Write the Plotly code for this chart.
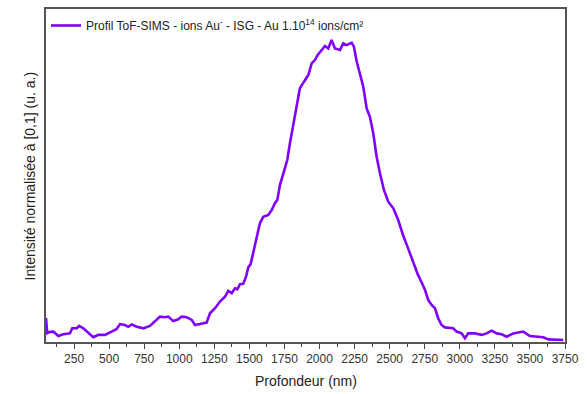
import plotly.graph_objects as go

depth_nm = [50, 59, 79, 102, 138, 173, 221, 237, 269, 287, 316, 352, 387, 423, 471, 518, 554, 577,
            613, 637, 661, 697, 744, 791, 827, 863, 898, 922, 957, 993, 1017, 1053, 1089, 1112, 1148,
            1195, 1219, 1255, 1290, 1326, 1349, 1374, 1397, 1414, 1433, 1456, 1476, 1492, 1509, 1523,
            1540, 1556, 1575, 1599, 1635, 1659, 1682, 1699, 1718, 1746, 1770, 1789, 1813, 1837, 1860,
            1889, 1920, 1944, 1967, 1987, 2015, 2039, 2062, 2086, 2110, 2146, 2169, 2193, 2229, 2245,
            2265, 2288, 2312, 2336, 2359, 2383, 2407, 2431, 2459, 2490, 2526, 2561, 2595, 2630, 2666,
            2702, 2730, 2752, 2775, 2799, 2823, 2846, 2870, 2894, 2953, 2977, 3013, 3037, 3060, 3108,
            3156, 3191, 3227, 3263, 3298, 3334, 3381, 3417, 3452, 3500, 3548, 3595, 3631, 3678, 3738]
intensity = [0.073, 0.023, 0.027, 0.028, 0.013, 0.019, 0.022, 0.039, 0.039, 0.047, 0.039, 0.022,
             0.009, 0.017, 0.017, 0.028, 0.037, 0.053, 0.050, 0.044, 0.052, 0.044, 0.039, 0.047,
             0.061, 0.078, 0.076, 0.078, 0.063, 0.069, 0.078, 0.076, 0.067, 0.050, 0.053, 0.058,
             0.089, 0.106, 0.128, 0.144, 0.164, 0.156, 0.172, 0.169, 0.186, 0.187, 0.211, 0.242,
             0.253, 0.283, 0.317, 0.350, 0.389, 0.411, 0.417, 0.433, 0.456, 0.467, 0.517, 0.561,
             0.600, 0.656, 0.722, 0.778, 0.839, 0.861, 0.883, 0.922, 0.933, 0.950, 0.967, 0.980,
             0.972, 1.000, 0.972, 0.967, 0.989, 0.983, 0.991, 0.978, 0.928, 0.883, 0.844, 0.772,
             0.744, 0.689, 0.611, 0.556, 0.500, 0.461, 0.439, 0.400, 0.350, 0.307, 0.260, 0.217,
             0.190, 0.167, 0.133, 0.117, 0.106, 0.072, 0.050, 0.042, 0.039, 0.028, 0.022, 0.006,
             0.022, 0.022, 0.017, 0.022, 0.031, 0.022, 0.019, 0.011, 0.022, 0.024, 0.028, 0.013,
             0.011, 0.009, 0.002, 0.002, 0.000]

x_tick_vals = [250, 500, 750, 1000, 1250, 1500, 1750, 2000, 2250, 2500, 2750, 3000, 3250, 3500, 3750]
x_tick_text = [str(v) for v in x_tick_vals]

series_name = "Profil ToF-SIMS - ions Au<sup>-</sup> - ISG - Au 1.10<sup>14</sup> ions/cm²"
x_title = "Profondeur (nm)"
y_title = "Intensité normalisée à [0,1] (u. a.)"

fig = go.Figure()
fig.add_trace(go.Scatter(
    x=depth_nm, y=intensity, mode="lines", name=series_name,
    line=dict(color="#8000ff", width=2.6, shape="linear"),
))

font_family = "Liberation Sans, Arial, sans-serif"
fig.update_layout(
    width=588, height=394,
    margin=dict(l=46, r=23, t=9, b=52, autoexpand=False),
    paper_bgcolor="white", plot_bgcolor="white",
    font=dict(family=font_family, color="#222222", size=12),
    showlegend=True,
    legend=dict(x=0.0, y=0.994, xanchor="left", yanchor="top",
                bgcolor="rgba(0,0,0,0)", font=dict(size=12, color="#222222"),
                itemwidth=30),
    xaxis=dict(
        range=[50, 3750], tickvals=x_tick_vals, ticktext=x_tick_text,
        ticks="outside", ticklen=5, tickwidth=1, tickcolor="#444444",
        minor=dict(dtick=125, tick0=0, ticks="outside", ticklen=3, tickwidth=1, tickcolor="#444444"),
        showgrid=False, zeroline=False, automargin=False,
        showline=True, linecolor="#555555", linewidth=1.5, mirror=True,
        tickfont=dict(size=12, color="#333333"),
    ),
    yaxis=dict(
        range=[-0.0067, 1.1033], showticklabels=False, ticks="",
        showgrid=False, zeroline=False, automargin=False,
        showline=True, linecolor="#555555", linewidth=1.5, mirror=True,
    ),
    annotations=[
        dict(text=x_title, xref="paper", yref="paper", x=0.5, y=-0.118,
             xanchor="center", yanchor="middle", showarrow=False,
             font=dict(size=14, color="#222222")),
        dict(text=y_title, xref="paper", yref="paper", x=-0.031, y=0.5,
             xanchor="center", yanchor="middle", showarrow=False, textangle=-90,
             font=dict(size=14, color="#222222")),
    ],
)

fig.write_html("out.html", config={"displayModeBar": False},
               post_script="document.body.style.margin='0';document.body.style.padding='0';")
